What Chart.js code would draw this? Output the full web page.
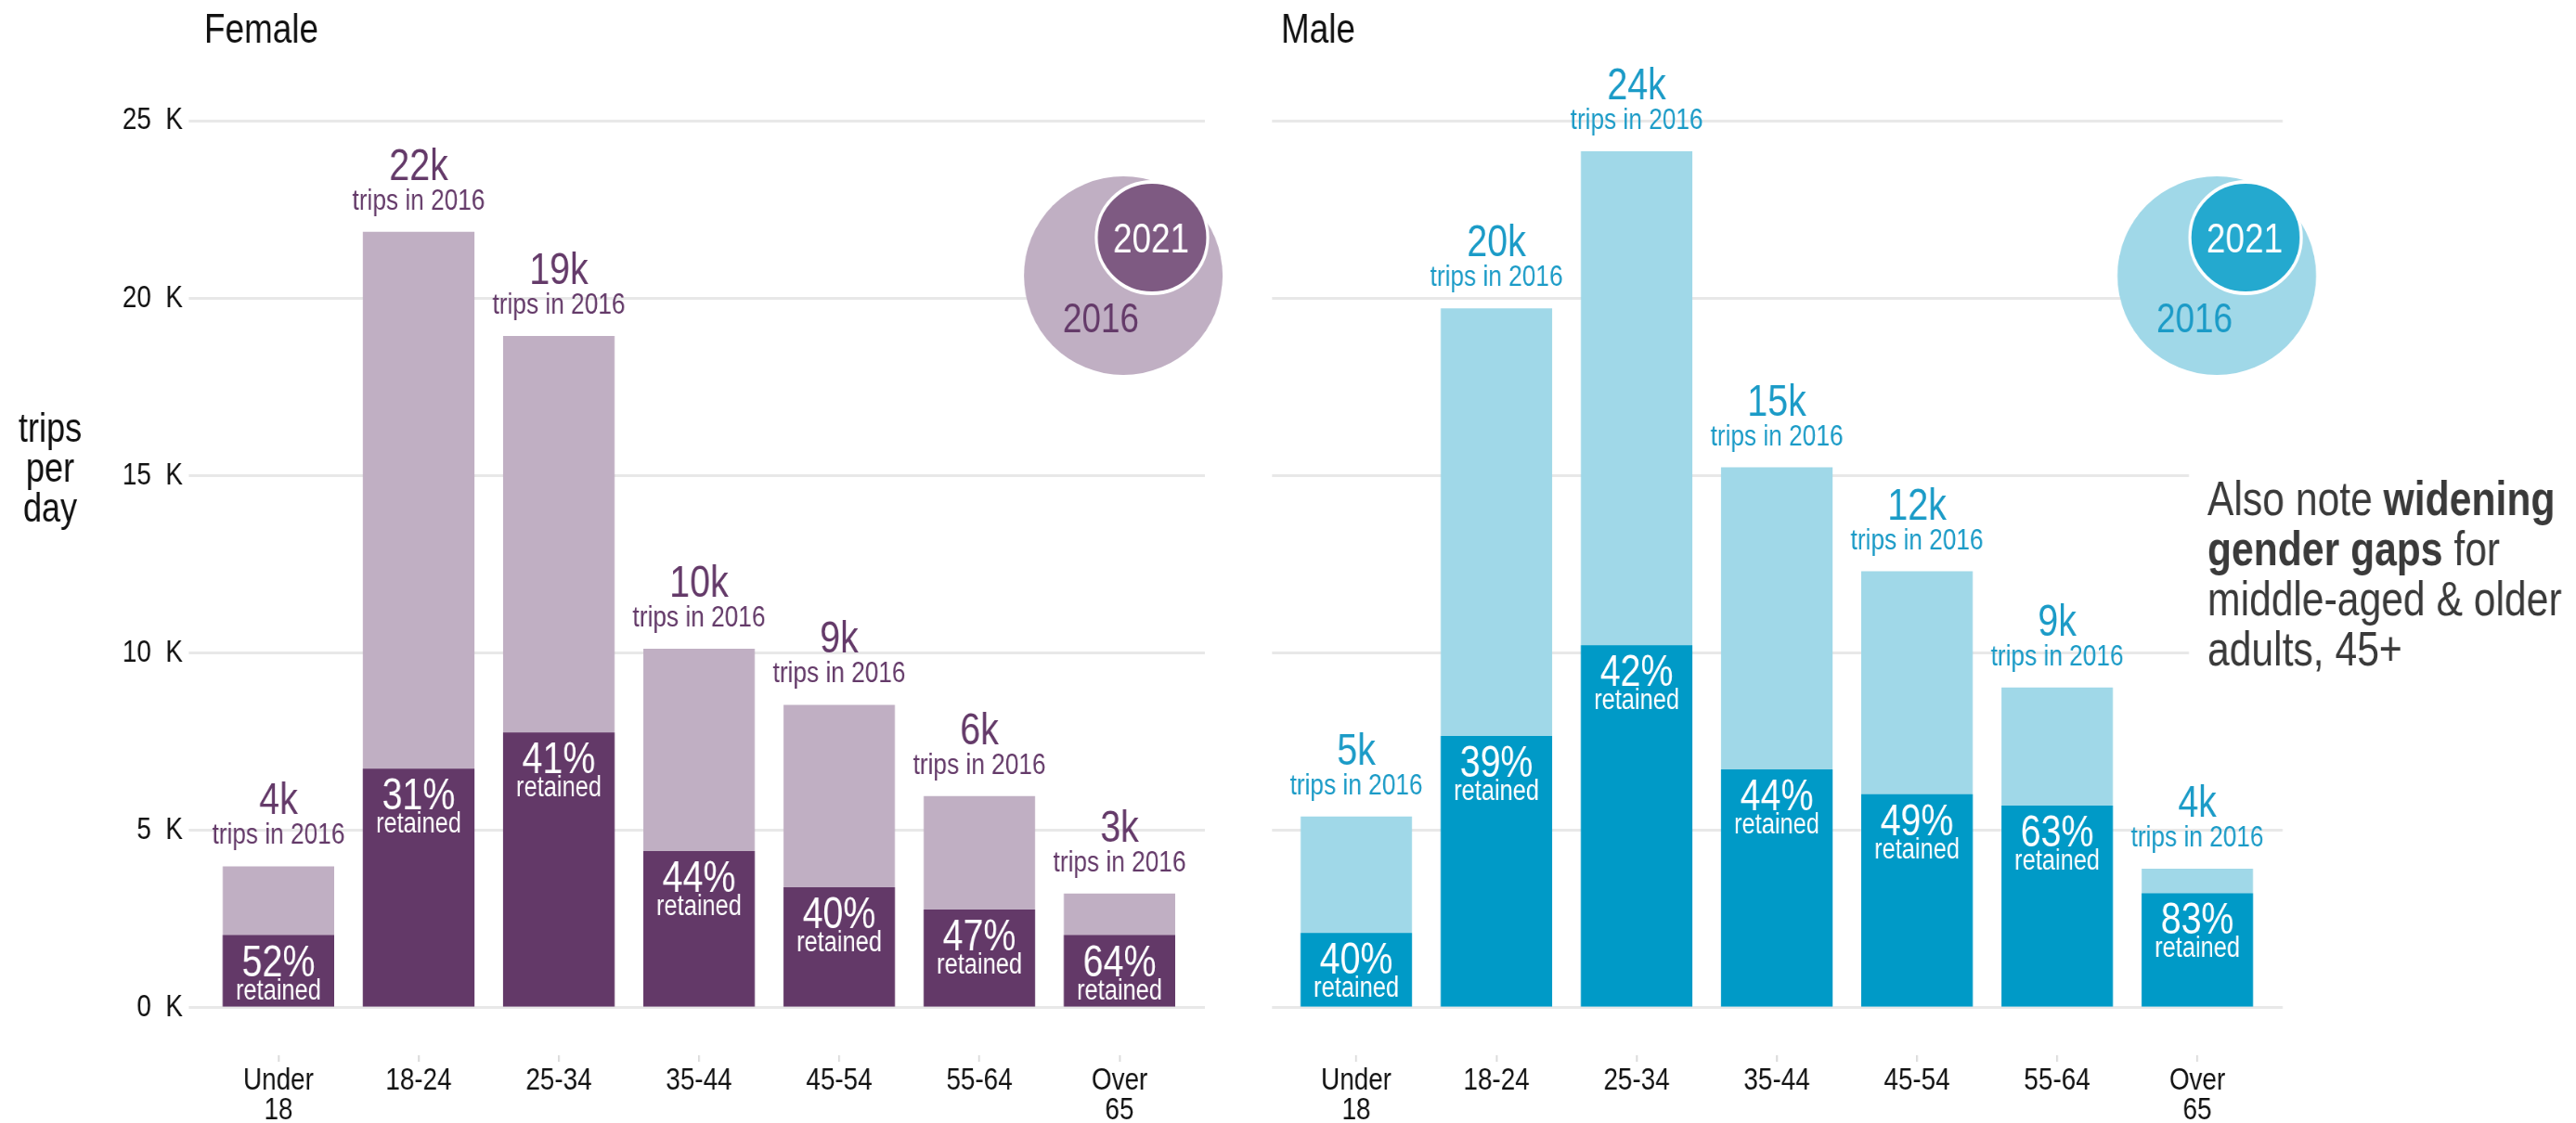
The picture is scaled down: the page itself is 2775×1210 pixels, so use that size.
<!DOCTYPE html>
<html>
<head>
<meta charset="utf-8">
<title>Trips per day by age: 2016 vs retained in 2021</title>
<script src="https://cdn.jsdelivr.net/npm/chart.js@4.4.1/dist/chart.umd.min.js"></script>
<style>
  html, body { margin: 0; padding: 0; background: #fff; }
  body { width: 2775px; height: 1210px; position: relative; overflow: hidden; }
  /* the original uses a narrow typeface; squeeze the canvases horizontally to get it */
  canvas { position: absolute; top: 0; transform: scaleX(0.82); transform-origin: 0 0; }
  #femaleChart { left: 0; }
  #maleChart { left: 1340px; }
</style>
</head>
<body>
<canvas id="femaleChart" width="1634" height="1210"></canvas>
<canvas id="maleChart" width="1750" height="1210"></canvas>
<script>
// age groups (x axis)
const ageGroups = ['Under 18', '18-24', '25-34', '35-44', '45-54', '55-64', 'Over 65'];

// trips per day in 2016 (full bar) and trips still made in 2021 (dark part)
const femaleTrips2016 = [3990, 21870, 18930, 10120, 8540, 5970, 3220];
const femaleTrips2021 = [2050, 6740, 7760, 4420, 3400, 2770, 2050];
const femalePctRetained = [52, 31, 41, 44, 40, 47, 64];

const maleTrips2016 = [5390, 19710, 24140, 15230, 12300, 9030, 3920];
const maleTrips2021 = [2110, 7660, 10220, 6720, 6020, 5700, 3230];
const malePctRetained = [40, 39, 42, 44, 49, 63, 83];

// y axis ticks
const yTickValues = [0, 5000, 10000, 15000, 20000, 25000];

const S = 0.82;               // horizontal squeeze set in the css
const u = x => x / S;         // page x -> canvas x
const FONT = "'Liberation Sans', Arial, sans-serif";
Chart.defaults.font.family = FONT;
Chart.defaults.color = '#111';

// text above / inside the bars
function barLabelPlugin(trips2016, pct, textColor) {
    return {
        id: 'barLabels',
        afterDatasetsDraw(chart) {
            const ctx = chart.ctx;
            const retainedBars = chart.getDatasetMeta(0).data;
            const totalBars = chart.getDatasetMeta(1).data;
            ctx.save();
            ctx.textAlign = 'center';
            ctx.textBaseline = 'alphabetic';
            totalBars.forEach((bar, i) => {
                ctx.fillStyle = textColor;
                ctx.font = '48px ' + FONT;
                ctx.fillText(Math.round(trips2016[i] / 1000) + 'k', bar.x, bar.y - 56);
                ctx.font = '32px ' + FONT;
                ctx.fillText('trips in 2016', bar.x, bar.y - 24);

                const r = retainedBars[i];
                ctx.fillStyle = '#ffffff';
                ctx.font = '48px ' + FONT;
                ctx.fillText(pct[i] + '%', r.x, r.y + 44);
                ctx.font = '31px ' + FONT;
                ctx.fillText('retained', r.x, r.y + 69);
            });
            ctx.restore();
        }
    };
}

// panel title + the little 2016 / 2021 circles
function panelDecorPlugin(p) {
    return {
        id: 'panelDecor',
        afterDraw(chart) {
            const ctx = chart.ctx;
            ctx.save();
            ctx.fillStyle = '#111';
            ctx.font = '45px ' + FONT;
            ctx.textAlign = 'left';
            ctx.textBaseline = 'alphabetic';
            ctx.fillText(p.title, u(p.titleX), 46);

            // 2016 circle (drawn as an ellipse so it stays round after the squeeze)
            ctx.beginPath();
            ctx.ellipse(u(p.vennX), 297, u(107), 107, 0, 0, Math.PI * 2);
            ctx.fillStyle = p.light;
            ctx.fill();
            // 2021 circle
            ctx.beginPath();
            ctx.ellipse(u(p.vennX + 31), 256, u(60), 60, 0, 0, Math.PI * 2);
            ctx.fillStyle = p.vennDark;
            ctx.fill();
            ctx.lineWidth = 4;
            ctx.strokeStyle = '#ffffff';
            ctx.stroke();

            ctx.textAlign = 'center';
            ctx.font = '45px ' + FONT;
            ctx.fillStyle = '#ffffff';
            ctx.fillText('2021', u(p.vennX + 30), 272);
            ctx.fillStyle = p.text;
            ctx.fillText('2016', u(p.vennX - 24), 358);

            if (p.extra) p.extra(ctx);
            ctx.restore();
        }
    };
}

function makePanel(id, p) {
    const canvas = document.getElementById(id);
    const ctx = canvas.getContext('2d');
    return new Chart(ctx, {
        type: 'bar',
        data: {
            datasets: [
                {
                    label: 'retained 2021',
                    data: p.trips2021.map((v, i) => ({ x: i, y: v })),
                    backgroundColor: p.dark,
                    grouped: false,
                    barPercentage: 0.795,
                    categoryPercentage: 1
                },
                {
                    label: 'trips 2016',
                    data: p.trips2016.map((v, i) => ({ x: i, y: v })),
                    backgroundColor: p.light,
                    grouped: false,
                    barPercentage: 0.795,
                    categoryPercentage: 1
                }
            ]
        },
        options: {
            responsive: false,
            animation: false,
            layout: { padding: { top: 130, bottom: 0, left: u(p.plotLeft - p.yWidth), right: canvas.width - u(p.plotRight) } },
            plugins: { legend: { display: false }, tooltip: { enabled: false } },
            scales: {
                x: {
                    type: 'linear',
                    offset: false,
                    min: p.xMin,
                    max: p.xMax,
                    afterBuildTicks: s => { s.ticks = ageGroups.map((g, i) => ({ value: i })); },
                    afterFit: s => { s.height = 73; },
                    grid: { offset: false, drawOnChartArea: false, drawTicks: true, tickLength: 7, color: '#dcdcdc', lineWidth: 2.4 },
                    border: { display: false },
                    ticks: {
                        autoSkip: false,
                        maxRotation: 0,
                        padding: 5,
                        color: '#111',
                        font: { size: 34, lineHeight: 0.94 },
                        callback: v => ageGroups[v].split(' ')
                    }
                },
                y: {
                    min: -1335,
                    max: 25000,
                    afterBuildTicks: s => { s.ticks = yTickValues.map(v => ({ value: v })); },
                    afterFit: s => { s.width = u(p.yWidth); },
                    grid: { color: '#e8e8e8', lineWidth: 3, drawTicks: false },
                    border: { display: false },
                    ticks: {
                        display: p.yLabels,
                        padding: u(6),
                        color: '#111',
                        font: { size: 34 },
                        callback: v => (v / 1000) + '  K'
                    }
                }
            }
        },
        plugins: [barLabelPlugin(p.trips2016, p.pct, p.text), panelDecorPlugin(p)]
    });
}

// Female (page x positions, canvas starts at 0)
makePanel('femaleChart', {
    title: 'Female', titleX: 220,
    trips2016: femaleTrips2016, trips2021: femaleTrips2021, pct: femalePctRetained,
    light: '#c0afc3', dark: '#633968', vennDark: '#7e5a82', text: '#643a69',
    vennX: 1210,
    plotLeft: 203, plotRight: 1298, yWidth: 203, yLabels: true,
    xMin: -0.642, xMax: 6.609,
    extra: ctx => {
        ctx.fillStyle = '#111';
        ctx.font = '44px ' + FONT;
        ctx.textAlign = 'center';
        ctx.fillText('trips', u(54), 476);
        ctx.fillText('per', u(54), 519);
        ctx.fillText('day', u(54), 562);
    }
});

// Male (positions relative to the canvas left at 1340)
makePanel('maleChart', {
    title: 'Male', titleX: 40,
    trips2016: maleTrips2016, trips2021: maleTrips2021, pct: malePctRetained,
    light: '#a0d8e8', dark: '#009ac7', vennDark: '#24a9cf', text: '#1b9bc7',
    vennX: 1048,
    plotLeft: 30, plotRight: 1119, yWidth: 0, yLabels: false,
    xMin: -0.603, xMax: 6.609,
    extra: ctx => {
        // note on the right, on a white box over the grid
        ctx.fillStyle = '#ffffff';
        ctx.fillRect(u(1018), 470, u(417), 270);
        ctx.fillStyle = '#3a3a3a';
        ctx.textAlign = 'left';
        const lines = [
            [['Also note ', false], ['widening', true]],
            [['gender gaps', true], [' for', false]],
            [['middle-aged & older', false]],
            [['adults, 45+', false]]
        ];
        lines.forEach((parts, li) => {
            let x = u(1038);
            parts.forEach(([txt, bold]) => {
                ctx.font = (bold ? 'bold ' : '') + '52px ' + FONT;
                ctx.fillText(txt, x, 555 + li * 54);
                x += ctx.measureText(txt).width;
            });
        });
    }
});
</script>
</body>
</html>
